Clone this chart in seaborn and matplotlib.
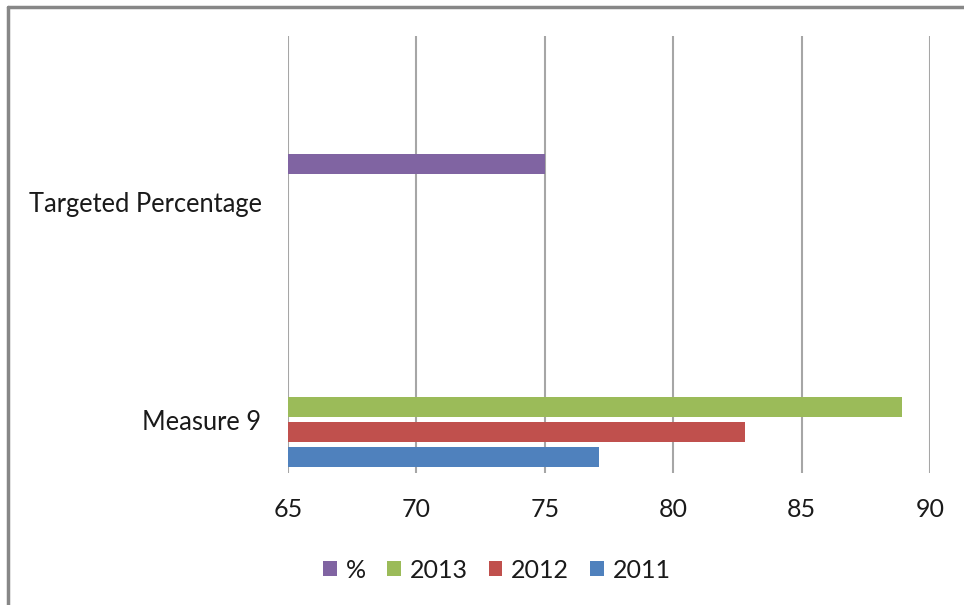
import matplotlib
matplotlib.use("Agg")
import matplotlib.pyplot as plt
import seaborn as sns
import pandas as pd
from matplotlib.lines import Line2D
from matplotlib.patches import Patch

categories = ["Targeted Percentage", "Measure 9"]
series = ["%", "2013", "2012", "2011"]
values_pct = [75.0, None]
values_2013 = [None, 88.9]
values_2012 = [None, 82.8]
values_2011 = [None, 77.1]
xticks = [65, 70, 75, 80, 85, 90]
colors = ["#8064A2", "#9BBB59", "#C0504D", "#4F81BD"]

rows = []
for s, vals in zip(series, [values_pct, values_2013, values_2012, values_2011]):
    for c, v in zip(categories, vals):
        if v is not None:
            rows.append({"category": c, "series": s, "value": v})
df = pd.DataFrame(rows)

sns.set_theme(style="white")
plt.rcParams["font.family"] = ["Lato", "DejaVu Sans"]

fig = plt.figure(figsize=(9.64, 6.05), dpi=100)
ax = fig.add_axes([288 / 964, 1 - 473 / 605, 642 / 964, 437 / 605])

sns.barplot(data=df, y="category", x="value", hue="series",
            order=categories, hue_order=series, palette=colors,
            orient="h", width=0.46, gap=0.2, dodge=True, ax=ax,
            legend=False, saturation=1)

for p in ax.patches:
    p.set_edgecolor("none")
    # bars start from the left axis bound (65)
    x0 = p.get_x()
    w = p.get_width()
    p.set_x(65)
    p.set_width(x0 + w - 65)

ax.set_xlim(65, 90)
ax.set_ylim(1.245, -0.759)
ax.set_xticks(xticks)
ax.set_xticklabels([str(t) for t in xticks])
ax.xaxis.grid(True, color="#A6A6A6", linewidth=1.5)
ax.yaxis.grid(False)
ax.set_axisbelow(True)
for s in ax.spines.values():
    s.set_visible(False)
ax.set_xlabel("")
ax.set_ylabel("")
ax.tick_params(axis="x", length=0, pad=18, labelsize=18, labelcolor="#1a1a1a")
ax.tick_params(axis="y", length=0, pad=19, labelsize=18.4, labelcolor="#1a1a1a")

handles = [Patch(facecolor=c, edgecolor="none", label=s) for s, c in zip(series, colors)]
fig.legend(handles=handles, loc="center", bbox_to_anchor=(497 / 964, 1 - 570 / 605),
           ncol=4, frameon=False, fontsize=18, handlelength=0.55, handleheight=0.55,
           handletextpad=0.35, columnspacing=0.85, labelcolor="#1a1a1a")

fig.add_artist(Line2D([8 / 964, 8 / 964], [0, 1 - 7 / 605], transform=fig.transFigure,
                      color="#878787", linewidth=2.5))
fig.add_artist(Line2D([8 / 964, 1], [1 - 7 / 605, 1 - 7 / 605], transform=fig.transFigure,
                      color="#878787", linewidth=2.5))

fig.savefig("out.png", dpi=100)
